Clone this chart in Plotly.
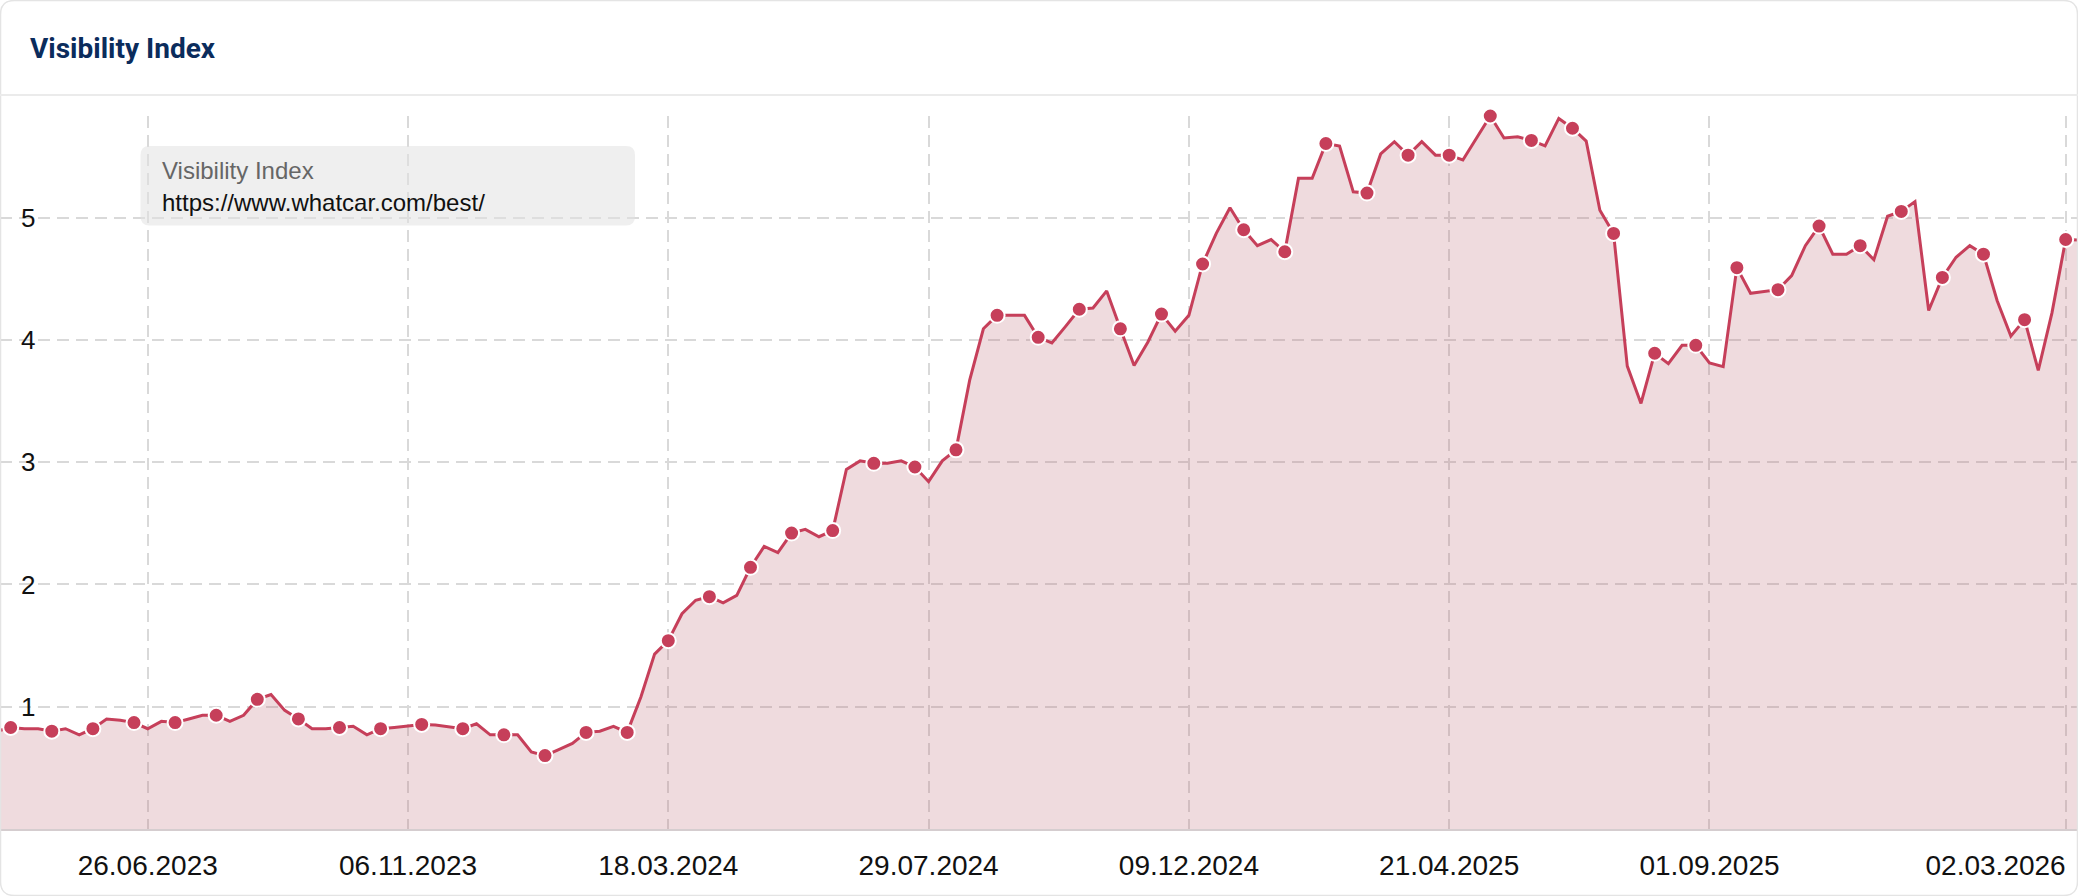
import pandas as pd
import plotly.graph_objects as go

# ---------------- data ----------------
first_week = "2023-04-10"          # weekly points (Mondays)
visibility = [
    0.80, 0.83, 0.82, 0.82, 0.80, 0.82, 0.77, 0.82, 0.90, 0.89,
    0.87, 0.82, 0.88, 0.87, 0.90, 0.93, 0.93, 0.88, 0.93, 1.06,
    1.10, 0.97, 0.90, 0.82, 0.82, 0.83, 0.84, 0.77, 0.82, 0.83,
    0.84, 0.855, 0.85, 0.835, 0.82, 0.86, 0.77, 0.77, 0.77, 0.63,
    0.60, 0.65, 0.70, 0.79, 0.80, 0.84, 0.79, 1.08, 1.43, 1.54,
    1.76, 1.87, 1.90, 1.85, 1.91, 2.14, 2.31, 2.26, 2.42, 2.45,
    2.39, 2.44, 2.94, 3.01, 2.99, 2.99, 3.01, 2.96, 2.84, 3.01,
    3.10, 3.67, 4.09, 4.20, 4.20, 4.20, 4.02, 3.975, 4.11, 4.25,
    4.26, 4.40, 4.09, 3.79, 3.98, 4.21, 4.07, 4.20, 4.62, 4.87,
    5.08, 4.90, 4.77, 4.82, 4.72, 5.32, 5.32, 5.605, 5.585, 5.21,
    5.20, 5.52, 5.62, 5.51, 5.62, 5.51, 5.51, 5.47, 5.65, 5.83,
    5.65, 5.66, 5.63, 5.585, 5.81, 5.73, 5.625, 5.06, 4.87, 3.785,
    3.48, 3.89, 3.805, 3.955, 3.955, 3.81, 3.78, 4.59, 4.38, 4.395,
    4.41, 4.525, 4.77, 4.93, 4.70, 4.70, 4.77, 4.655, 5.01, 5.05,
    5.13, 4.24, 4.51, 4.675, 4.77, 4.70, 4.32, 4.03, 4.165, 3.75,
    4.22, 4.82, 4.815,
]
dates = pd.date_range(first_week, periods=len(visibility), freq="7D")

tick_dates = ["2023-06-26", "2023-11-06", "2024-03-18", "2024-07-29",
              "2024-12-09", "2025-04-21", "2025-09-01", "2026-03-02"]
tick_labels = ["26.06.2023", "06.11.2023", "18.03.2024", "29.07.2024",
               "09.12.2024", "21.04.2025", "01.09.2025", "02.03.2026"]
y_ticks = [1, 2, 3, 4, 5]

title_text = "Visibility Index"
legend_title = "Visibility Index"
legend_url = "https://www.whatcar.com/best/"

# ---------------- style ----------------
W, H = 2078, 896
M_T, M_B = 116, 67
LINE = "#c63f5a"
FILL = "rgba(190,110,125,0.25)"
GRID = "#d9d9d9"
TICKFONT = dict(family="Liberation Sans, Arial, Helvetica", size=28, color="#111111")

# markers on every third weekly point
msize = [15 if i % 3 == 1 else 0 for i in range(len(visibility))]
mline = [2 if i % 3 == 1 else 0 for i in range(len(visibility))]

fig = go.Figure()
fig.add_trace(go.Scatter(
    x=dates, y=visibility, mode="lines+markers",
    line=dict(color=LINE, width=3),
    fill="tozeroy", fillcolor=FILL,
    marker=dict(size=msize, color=LINE, opacity=1,
                line=dict(color="white", width=mline)),
    cliponaxis=False, hoverinfo="x+y", showlegend=False,
))
# empty trace so that the overlay axis (last, left-justified label) exists
fig.add_trace(go.Scatter(x=[], y=[], xaxis="x2", yaxis="y",
                         showlegend=False, hoverinfo="skip"))

x0 = pd.Timestamp("2023-06-26") - pd.Timedelta(days=75.47)
x1 = pd.Timestamp("2023-06-26") + pd.Timedelta(days=986.3)


def py(ypx):
    return (H - M_B - ypx) / (H - M_T - M_B)


def px(xpx):
    return xpx / W


def rrect(xa, ya, xb, yb, r):
    # rounded rectangle path in paper coords from pixel coords
    rx, ry = r / W, r / (H - M_T - M_B)
    X0, X1, Y0, Y1 = px(xa), px(xb), py(yb), py(ya)
    return (f"M{X0+rx},{Y1} L{X1-rx},{Y1} Q{X1},{Y1} {X1},{Y1-ry} "
            f"L{X1},{Y0+ry} Q{X1},{Y0} {X1-rx},{Y0} L{X0+rx},{Y0} "
            f"Q{X0},{Y0} {X0},{Y0+ry} L{X0},{Y1-ry} Q{X0},{Y1} {X0+rx},{Y1} Z")


shapes = [
    # card border
    dict(type="path", xref="paper", yref="paper", path=rrect(0.5, 0.5, W - 0.5, H - 0.5, 14),
         line=dict(color="#e4e4e4", width=1.5), fillcolor="rgba(0,0,0,0)", layer="above"),
    # header separator
    dict(type="line", xref="paper", yref="paper", x0=0, x1=1, y0=py(95), y1=py(95),
         line=dict(color="#ebebeb", width=2)),
    # legend box
    dict(type="path", xref="paper", yref="paper", path=rrect(140.5, 146, 635, 225.5, 9),
         line=dict(width=0), fillcolor="rgba(226,226,226,0.55)", layer="above"),
]

annotations = [
    dict(text=legend_title, xref="paper", yref="paper", x=px(160), y=py(170),
         xanchor="left", yanchor="middle", showarrow=False,
         font=dict(family="Liberation Sans, Arial, Helvetica", size=24, color="#666666")),
    dict(text=legend_url, xref="paper", yref="paper", x=px(160), y=py(202),
         xanchor="left", yanchor="middle", showarrow=False,
         font=dict(family="Liberation Sans, Arial, Helvetica", size=24, color="#111111")),
]

fig.update_layout(
    width=W, height=H,
    margin=dict(l=0, r=0, t=M_T, b=M_B, pad=0),
    paper_bgcolor="white", plot_bgcolor="white",
    title=dict(text=f"<b>{title_text}</b>", x=30 / W, xanchor="left",
               y=1 - 48 / H, yanchor="middle", yref="container",
               font=dict(family="Roboto, Arial", size=28, color="#0b2c5c")),
    shapes=shapes, annotations=annotations,
    xaxis=dict(
        type="date", range=[x0, x1],
        tickmode="array", tickvals=tick_dates,
        ticktext=tick_labels[:-1] + [""],
        showgrid=True, gridcolor=GRID, gridwidth=2, griddash="12px,7px",
        showline=True, linecolor="#d5cdcf", linewidth=2,
        ticks="", ticklabelstandoff=10,
        tickfont=TICKFONT, zeroline=False, fixedrange=True,
    ),
    xaxis2=dict(
        type="date", matches="x", overlaying="x", anchor="y", side="bottom",
        tickmode="array", tickvals=tick_dates[-1:], ticktext=tick_labels[-1:],
        ticklabelposition="outside left",
        showgrid=False, showline=False, zeroline=False,
        ticks="", ticklabelstandoff=17,
        tickfont=TICKFONT, fixedrange=True,
    ),
    yaxis=dict(
        range=[0, 5.83], tickmode="array", tickvals=y_ticks,
        ticktext=[str(v) for v in y_ticks],
        showgrid=True, gridcolor=GRID, gridwidth=2, griddash="12px,7px",
        ticklabelposition="inside", ticklabelstandoff=18,
        tickfont=dict(family="Liberation Sans, Arial, Helvetica", size=26, color="#111111"),
        zeroline=False, showline=False, ticks="", fixedrange=True,
    ),
)

fig.write_html(
    "out.html",
    config={"displayModeBar": False},
    post_script="document.body.style.margin='0';document.body.style.padding='0';"
                "document.body.style.overflow='hidden';",
)
